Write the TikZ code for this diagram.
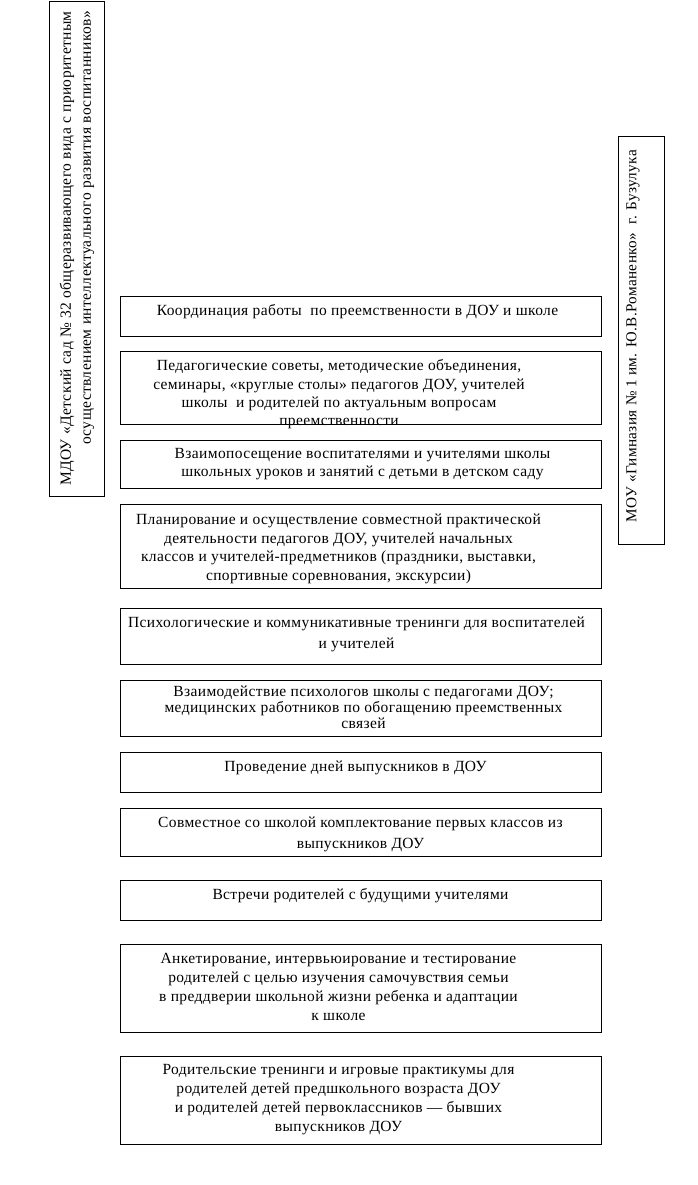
\documentclass[tikz,border=0pt]{standalone}
\usepackage{fontspec}
\setmainfont{Liberation Serif}[LetterSpace=2.5]
\begin{document}
\begin{tikzpicture}[x=1pt, y=-1pt,
    box/.style={draw, line width=0.8pt, inner sep=0pt, minimum width=481pt},
    txt/.style={anchor=north, inner sep=0pt, align=center, font=\fontsize{15.5}{18.7}\selectfont},
    side/.style={draw, line width=0.8pt, inner sep=0pt}]
    \useasboundingbox (0,0) rectangle (697,1185);

    % Left vertical box: kindergarten
    \node[side, minimum width=55pt, minimum height=495pt] (mdou) at (76.5,248.5) {};
    \node[rotate=90, anchor=east, inner sep=0pt, align=right, font=\fontsize{15.5}{20}\selectfont] (mdoutxt) at (77,11)
        {МДОУ «Детский сад № 32 общеразвивающего вида с приоритетным\\осуществлением интеллектуального развития воспитанников»};

    % Right vertical box: gymnasium
    \node[side, minimum width=46pt, minimum height=408pt] (mou) at (641,340) {};
    \node[rotate=90, inner sep=0pt, font=\fontsize{15.2}{18}\selectfont] (moutxt) at (633,336)
        {МОУ «Гимназия № 1 им. Ю.В.Романенко»\ \ г. Бузулука};

    % Central column of forms of work
    \node[box, minimum height=40pt] (b1) at (360.5,316) {};
    \node[txt] (t1) at ([xshift=-3pt, yshift=-9pt]b1.north)
        {Координация работы \ по преемственности в ДОУ и школе};

    \node[box, minimum height=73pt] (b2) at (360.5,387.5) {};
    \node[txt, font=\fontsize{15.5}{18.3}\selectfont] (t2) at ([xshift=-21.5pt, yshift=-9pt]b2.north)
        {Педагогические советы, методические объединения,\\семинары, «круглые столы» педагогов ДОУ, учителей\\школы \ и родителей по актуальным вопросам\\преемственности};

    \node[box, minimum height=48pt] (b3) at (360.5,464) {};
    \node[txt, font=\fontsize{15.5}{18}\selectfont] (t3) at ([xshift=2pt, yshift=-9pt]b3.north)
        {Взаимопосещение воспитателями и учителями школы\\школьных уроков и занятий с детьми в детском саду};

    \node[box, minimum height=84pt] (b4) at (360.5,546) {};
    \node[txt] (t4) at ([xshift=-22pt, yshift=-10pt]b4.north)
        {Планирование и осуществление совместной практической\\деятельности педагогов ДОУ, учителей начальных\\классов и учителей-предметников (праздники, выставки,\\спортивные соревнования, экскурсии)};

    \node[box, minimum height=56pt] (b5) at (360.5,636) {};
    \node[txt, font=\fontsize{15.5}{21}\selectfont] (t5) at ([xshift=-4pt, yshift=-9pt]b5.north)
        {Психологические и коммуникативные тренинги для воспитателей\\и учителей};

    \node[box, minimum height=56pt] (b6) at (360.5,708) {};
    \node[txt, font=\fontsize{15.5}{16}\selectfont] (t6) at ([xshift=3pt, yshift=-6pt]b6.north)
        {Взаимодействие психологов школы с педагогами ДОУ;\\ медицинских работников по обогащению преемственных\\связей};

    \node[box, minimum height=40pt] (b7) at (360.5,772) {};
    \node[txt] (t7) at ([xshift=-5pt, yshift=-9pt]b7.north)
        {Проведение дней выпускников в ДОУ};

    \node[box, minimum height=48pt] (b8) at (360.5,832) {};
    \node[txt, font=\fontsize{15.5}{21}\selectfont] (t8) at ([xshift=0pt, yshift=-9pt]b8.north)
        {Совместное со школой комплектование первых классов из\\выпускников ДОУ};

    \node[box, minimum height=40pt] (b9) at (360.5,900) {};
    \node[txt] (t9) at ([xshift=0pt, yshift=-9pt]b9.north)
        {Встречи родителей с будущими учителями};

    \node[box, minimum height=88pt] (b10) at (360.5,988) {};
    \node[txt, font=\fontsize{15.5}{19}\selectfont] (t10) at ([xshift=-22pt, yshift=-9pt]b10.north)
        {Анкетирование, интервьюирование и тестирование\\родителей с целью изучения самочувствия семьи\\в преддверии школьной жизни ребенка и адаптации\\к школе};

    \node[box, minimum height=88pt] (b11) at (360.5,1100) {};
    \node[txt, font=\fontsize{15.5}{19}\selectfont] (t11) at ([xshift=-22pt, yshift=-9pt]b11.north)
        {Родительские тренинги и игровые практикумы для\\родителей детей предшкольного возраста ДОУ\\и родителей детей первоклассников — бывших\\выпускников ДОУ};

\end{tikzpicture}
\end{document}
